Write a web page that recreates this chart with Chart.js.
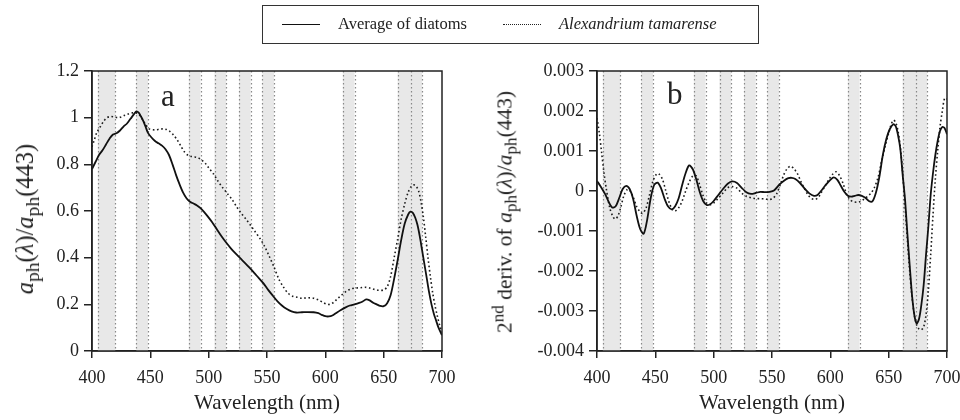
<!DOCTYPE html>
<html>
<head>
<meta charset="utf-8">
<script src="https://cdn.jsdelivr.net/npm/chart.js@4.4.1/dist/chart.umd.min.js"></script>
<style>
html, body { margin: 0; padding: 0; background: #fff; }
#wrap { position: relative; width: 960px; height: 420px; overflow: hidden;
        font-family: "Liberation Serif", "DejaVu Serif", serif; color: #222; }
canvas { position: absolute; top: 0; }
#legend { position: absolute; left: 262px; top: 5px; width: 497px; height: 39px;
          border: 1.5px solid #333; box-sizing: border-box; font-size: 16.5px; }
#legend .smp { position: absolute; top: 18px; width: 38px; height: 0; }
#legend .txt { position: absolute; top: 8px; white-space: nowrap; }
.ytitle { position: absolute; white-space: nowrap;
          transform: translate(-50%, -50%) rotate(-90deg); }
.ytitle sub, .ytitle sup { font-size: 0.8em; line-height: 0; }
.panel { position: absolute; font-size: 31px; line-height: 1; }
</style>
</head>
<body>
<div id="wrap">
  <canvas id="chartA" width="480" height="420" style="left:0"></canvas>
  <canvas id="chartB" width="495" height="420" style="left:480px"></canvas>

  <div id="legend">
    <div class="smp" style="left:19px;border-top:1.8px solid #111"></div>
    <div class="txt" style="left:75px">Average of diatoms</div>
    <div class="smp" style="left:240px;border-top:1.6px dotted #222"></div>
    <div class="txt" style="left:296px;font-style:italic">Alexandrium tamarense</div>
  </div>

  <div class="ytitle" style="left:25px;top:219px;font-size:24.5px"><i>a</i><sub>ph</sub>(<i>λ</i>)/<i>a</i><sub>ph</sub>(443)</div>
  <div class="ytitle" style="left:505px;top:212px;font-size:21.5px">2<sup>nd</sup> deriv. of <i>a</i><sub>ph</sub>(<i>λ</i>)/<i>a</i><sub>ph</sub>(443)</div>

  <div class="panel" style="left:161px;top:80px">a</div>
  <div class="panel" style="left:667px;top:78px">b</div>
</div>

<script>
// axes
const xTicks = [400, 450, 500, 550, 600, 650, 700];
const xLabels = ['400', '450', '500', '550', '600', '650', '700'];
const aTicks = [0, 0.2, 0.4, 0.6, 0.8, 1, 1.2];
const aLabels = ['0', '0.2', '0.4', '0.6', '0.8', '1', '1.2'];
const bTicks = [-0.004, -0.003, -0.002, -0.001, 0, 0.001, 0.002, 0.003];
const bLabels = ['-0.004', '-0.003', '-0.002', '-0.001', '0', '0.001', '0.002', '0.003'];

// shaded wavelength bands (nm) + extra dotted line inside the red band
const bands = [[405, 420], [438, 448], [483, 493], [505, 515], [526, 536], [546, 556], [615, 625], [662, 683]];
const bandMidLines = [673];

// panel a : normalised absorption, average of diatoms
const diaWl = [400, 403, 406, 409, 412, 415, 418, 421, 424, 427, 430, 433, 436, 438, 440, 442, 444, 446, 448, 451,
  454, 457, 460, 463, 466, 469, 472, 475, 478, 481, 484, 487, 490, 493, 496, 499, 503, 507, 511, 515,
  519, 523, 527, 531, 535, 539, 543, 547, 551, 555, 559, 563, 567, 571, 575, 580, 585, 590, 594, 597,
  600, 603, 606, 609, 613, 617, 621, 625, 629, 632, 635, 638, 641, 644, 647, 650, 653, 656, 659, 662,
  665, 668, 671, 673, 675, 677, 679, 681, 683, 685, 687, 689, 691, 693, 695, 697, 700];
const diaA = [0.78, 0.81, 0.84, 0.86, 0.885, 0.91, 0.928, 0.933, 0.945, 0.962, 0.975, 0.995, 1.015, 1.027, 1.022, 1.005, 0.985, 0.96, 0.935, 0.915,
  0.9, 0.89, 0.88, 0.865, 0.84, 0.8, 0.755, 0.715, 0.68, 0.655, 0.64, 0.632, 0.624, 0.612, 0.596, 0.578, 0.552, 0.522, 0.492, 0.465,
  0.44, 0.418, 0.398, 0.378, 0.357, 0.335, 0.312, 0.29, 0.262, 0.237, 0.213, 0.194, 0.18, 0.17, 0.165, 0.166, 0.167, 0.166, 0.162, 0.155,
  0.149, 0.148, 0.152, 0.162, 0.175, 0.186, 0.195, 0.2, 0.206, 0.212, 0.221, 0.217, 0.207, 0.2, 0.193, 0.192, 0.205, 0.24, 0.31, 0.39,
  0.475, 0.545, 0.585, 0.597, 0.592, 0.572, 0.54, 0.49, 0.43, 0.37, 0.31, 0.25, 0.2, 0.16, 0.13, 0.1, 0.068];

// panel a : Alexandrium tamarense
const alxWl = [400, 402, 404, 407, 410, 413, 416, 419, 422, 425, 428, 431, 434, 437, 440, 443, 446, 449, 452, 455,
  458, 461, 464, 467, 470, 473, 476, 479, 482, 485, 488, 491, 494, 497, 500, 504, 508, 512, 516, 520,
  524, 528, 532, 536, 540, 544, 548, 552, 556, 560, 564, 568, 572, 576, 580, 585, 590, 594, 598, 601,
  604, 607, 610, 614, 618, 622, 626, 630, 634, 638, 642, 646, 650, 653, 656, 659, 662, 665, 668, 671,
  674, 676, 678, 680, 682, 684, 686, 688, 690, 692, 694, 696, 698, 700];
const alxA = [0.875, 0.905, 0.935, 0.96, 0.985, 1.0, 1.005, 1.003, 1.0, 1.003, 1.01, 1.016, 1.02, 1.022, 1.015, 0.995, 0.97, 0.952, 0.948, 0.948,
  0.951, 0.952, 0.949, 0.94, 0.925, 0.905, 0.88, 0.855, 0.84, 0.834, 0.832, 0.828, 0.818, 0.805, 0.785, 0.76, 0.728, 0.7, 0.675, 0.65,
  0.618, 0.59, 0.565, 0.538, 0.51, 0.482, 0.448, 0.405, 0.36, 0.31, 0.275, 0.248, 0.235, 0.23, 0.226, 0.228, 0.226, 0.219, 0.208, 0.201,
  0.2, 0.208, 0.222, 0.24, 0.256, 0.266, 0.27, 0.271, 0.273, 0.27, 0.264, 0.26, 0.262, 0.275, 0.32, 0.4, 0.48, 0.565, 0.63, 0.68,
  0.708, 0.712, 0.705, 0.685, 0.64, 0.575, 0.49, 0.4, 0.32, 0.25, 0.195, 0.15, 0.11, 0.08];

// panel b : 2nd derivative, average of diatoms
const diaDWl = [400, 403, 407, 410, 413, 416, 419, 422, 425, 428, 431, 434, 437, 440, 443, 446, 449, 452, 455, 458,
  461, 464, 467, 470, 473, 476, 479, 482, 485, 488, 491, 494, 497, 500, 504, 508, 512, 516, 520, 524,
  528, 532, 536, 540, 544, 548, 552, 556, 560, 564, 567, 570, 574, 578, 582, 586, 589, 592, 596, 600,
  603, 606, 609, 612, 615, 618, 621, 624, 627, 630, 633, 636, 639, 642, 645, 648, 651, 654, 656, 658,
  660, 662, 664, 666, 668, 670, 672, 674, 676, 678, 680, 682, 684, 686, 688, 690, 692, 694, 696, 698, 700];
const diaD = [0.00025, 0.00012, -0.00008, -0.00027, -0.00041, -0.00038, -0.00018, 0.00005, 0.00013, 0.00005,
  -0.0002, -0.00062, -0.00095, -0.00107, -0.00072, -0.00018, 0.00015, 0.00021, 0.00006, -0.0002,
  -0.00039, -0.00046, -0.00038, -0.00018, 0.00015, 0.00045, 0.00064, 0.00055, 0.0003, -0.00002,
  -0.00025, -0.00035, -0.00033, -0.00025, -0.0001, 0.00005, 0.00018, 0.00024, 0.0002, 0.00008,
  -0.00003, -0.00007, -0.00005, -0.00002, -0.00003, -0.00002, 0.00002, 0.00015, 0.00025, 0.00032,
  0.00033, 0.0003, 0.0002, 0.00006, -0.00006, -0.00012, -0.0001, 0.0, 0.00015, 0.00028,
  0.00034, 0.00028, 0.00013, -0.00002, -0.00012, -0.00014, -0.00012, -0.0001, -0.00012, -0.00017,
  -0.00025, -0.00026, -0.00005, 0.00035, 0.0009, 0.0013, 0.00155, 0.00167, 0.00162, 0.0014,
  0.00105, 0.0004, -0.0002, -0.00105, -0.00185, -0.0026, -0.0031, -0.00331, -0.0032, -0.00285,
  -0.00235, -0.0016, -0.0009, -0.0001, 0.00045, 0.0009, 0.00125, 0.0015, 0.0016, 0.00157, 0.00142];

// panel b : 2nd derivative, Alexandrium tamarense
const alxDWl = [400, 402, 404, 406, 408, 411, 414, 416, 418, 420, 423, 426, 428, 431, 434, 437, 439, 442, 445, 448,
  451, 453, 456, 459, 462, 465, 467, 470, 473, 476, 479, 482, 485, 488, 491, 494, 497, 500, 504, 508,
  512, 516, 520, 524, 528, 532, 536, 540, 544, 548, 551, 554, 557, 560, 563, 566, 569, 572, 575, 578,
  581, 584, 587, 590, 593, 596, 599, 602, 605, 608, 611, 614, 617, 620, 623, 626, 629, 632, 635, 638,
  641, 644, 647, 650, 652, 654, 656, 658, 660, 662, 664, 666, 668, 670, 672, 674, 676, 678, 680, 682,
  684, 686, 688, 690, 692, 694, 696, 698, 700];
const alxD = [0.00182, 0.00145, 0.00095, 0.00045, 0.00005, -0.00043, -0.00066, -0.0007, -0.00062, -0.00045,
  -0.00012, 0.00004, 0.00002, -0.00015, -0.00039, -0.00052, -0.00056, -0.00043, -0.0001, 0.00025,
  0.00042, 0.00043, 0.0003, 0.0, -0.0003, -0.00048, -0.0005, -0.00042, -0.00025, 0.0,
  0.00022, 0.00037, 0.00038, 0.00015, -0.00012, -0.0003, -0.00034, -0.0003, -0.00018, -0.00005,
  0.00008, 0.00011, 0.00007, -0.00005, -0.00013, -0.00017, -0.00019, -0.00019, -0.0002, -0.00021,
  -0.00018, -0.00007, 0.00015, 0.0004, 0.00056, 0.00062, 0.00055, 0.00042, 0.00022, 0.00005,
  -0.0001, -0.00019, -0.00021, -0.00015, 0.0, 0.00015, 0.0003, 0.00042, 0.00048, 0.00038,
  0.00018, -0.00008, -0.00022, -0.00027, -0.00028, -0.00026, -0.0002, -0.00013, -0.00005, 0.0001,
  0.00035, 0.00075, 0.00112, 0.00145, 0.00165, 0.00177, 0.00172, 0.0015, 0.0011, 0.00045,
  -0.00035, -0.0012, -0.002, -0.00265, -0.0031, -0.00335, -0.00345, -0.00347, -0.0034, -0.0031,
  -0.0025, -0.0016, -0.0006, 0.0003, 0.001, 0.0016, 0.002, 0.00232, 0.0023];

const INK = '#222';
const SERIF = "'Liberation Serif', 'DejaVu Serif', serif";

const bandPlugin = {
  id: 'bands',
  beforeDatasetsDraw(chart) {
    const { ctx, chartArea: a, scales: { x } } = chart;
    ctx.save();
    ctx.fillStyle = '#e8e8e8';
    bands.forEach(([lo, hi]) => {
      const x0 = x.getPixelForValue(lo), x1 = x.getPixelForValue(hi);
      ctx.fillRect(x0, a.top, x1 - x0, a.bottom - a.top);
    });
    ctx.strokeStyle = '#888';
    ctx.lineWidth = 1.2;
    ctx.setLineDash([1.4, 2.6]);
    bands.flat().concat(bandMidLines).forEach(v => {
      const px = Math.round(x.getPixelForValue(v)) + 0.5;
      ctx.beginPath();
      ctx.moveTo(px, a.top);
      ctx.lineTo(px, a.bottom);
      ctx.stroke();
    });
    ctx.restore();
  },
  afterDraw(chart) {
    const { ctx, chartArea: a } = chart;
    ctx.save();
    ctx.strokeStyle = INK;
    ctx.lineWidth = 1.5;
    ctx.strokeRect(a.left, a.top, a.right - a.left, a.bottom - a.top);
    ctx.restore();
  }
};

const pts = (wl, v) => wl.map((w, i) => ({ x: w, y: v[i] }));

function makePanel(id, solid, dotted, yTicks, yLabels, yWidth, rightPad) {
  new Chart(document.getElementById(id), {
    type: 'scatter',
    data: {
      datasets: [
        { label: 'Average of diatoms', data: solid, showLine: true, pointRadius: 0,
          borderColor: '#111', borderWidth: 1.8, tension: 0.3 },
        { label: 'Alexandrium tamarense', data: dotted, showLine: true, pointRadius: 0,
          borderColor: '#1c1c1c', borderWidth: 1.6, borderDash: [1.6, 2.6], tension: 0.3 }
      ]
    },
    options: {
      responsive: false,
      animation: false,
      events: [],
      layout: { padding: { top: 71, right: rightPad, bottom: 0, left: 0 } },
      plugins: { legend: { display: false }, tooltip: { enabled: false } },
      scales: {
        x: {
          type: 'linear', min: 400, max: 700,
          afterFit: s => { s.height = 69; },
          afterBuildTicks: s => { s.ticks = xTicks.map(v => ({ value: v })); },
          ticks: { callback: (v, i) => xLabels[i], color: INK, padding: 9,
                   font: { family: SERIF, size: 18 }, maxRotation: 0 },
          grid: { drawOnChartArea: false, drawTicks: true, tickLength: 7, tickColor: INK, tickWidth: 1.5,
                  color: INK, lineWidth: 1.5 },
          border: { color: INK, width: 1.5 },
          title: { display: true, text: 'Wavelength (nm)', color: INK,
                   font: { family: SERIF, size: 21 }, padding: { top: 0, bottom: 4 } }
        },
        y: {
          type: 'linear', min: yTicks[0], max: yTicks[yTicks.length - 1],
          afterFit: s => { s.width = yWidth; },
          afterBuildTicks: s => { s.ticks = yTicks.map(v => ({ value: v })); },
          ticks: { callback: (v, i) => yLabels[i], color: INK, padding: 5,
                   font: { family: SERIF, size: 18 } },
          grid: { drawOnChartArea: false, drawTicks: true, tickLength: 8, tickColor: INK, tickWidth: 1.5,
                  color: INK, lineWidth: 1.5 },
          border: { color: INK, width: 1.5 }
        }
      }
    },
    plugins: [bandPlugin]
  });
}

makePanel('chartA', pts(diaWl, diaA), pts(alxWl, alxA), aTicks, aLabels, 92, 38);
makePanel('chartB', pts(diaDWl, diaD), pts(alxDWl, alxD), bTicks, bLabels, 117, 28);
</script>
</body>
</html>
